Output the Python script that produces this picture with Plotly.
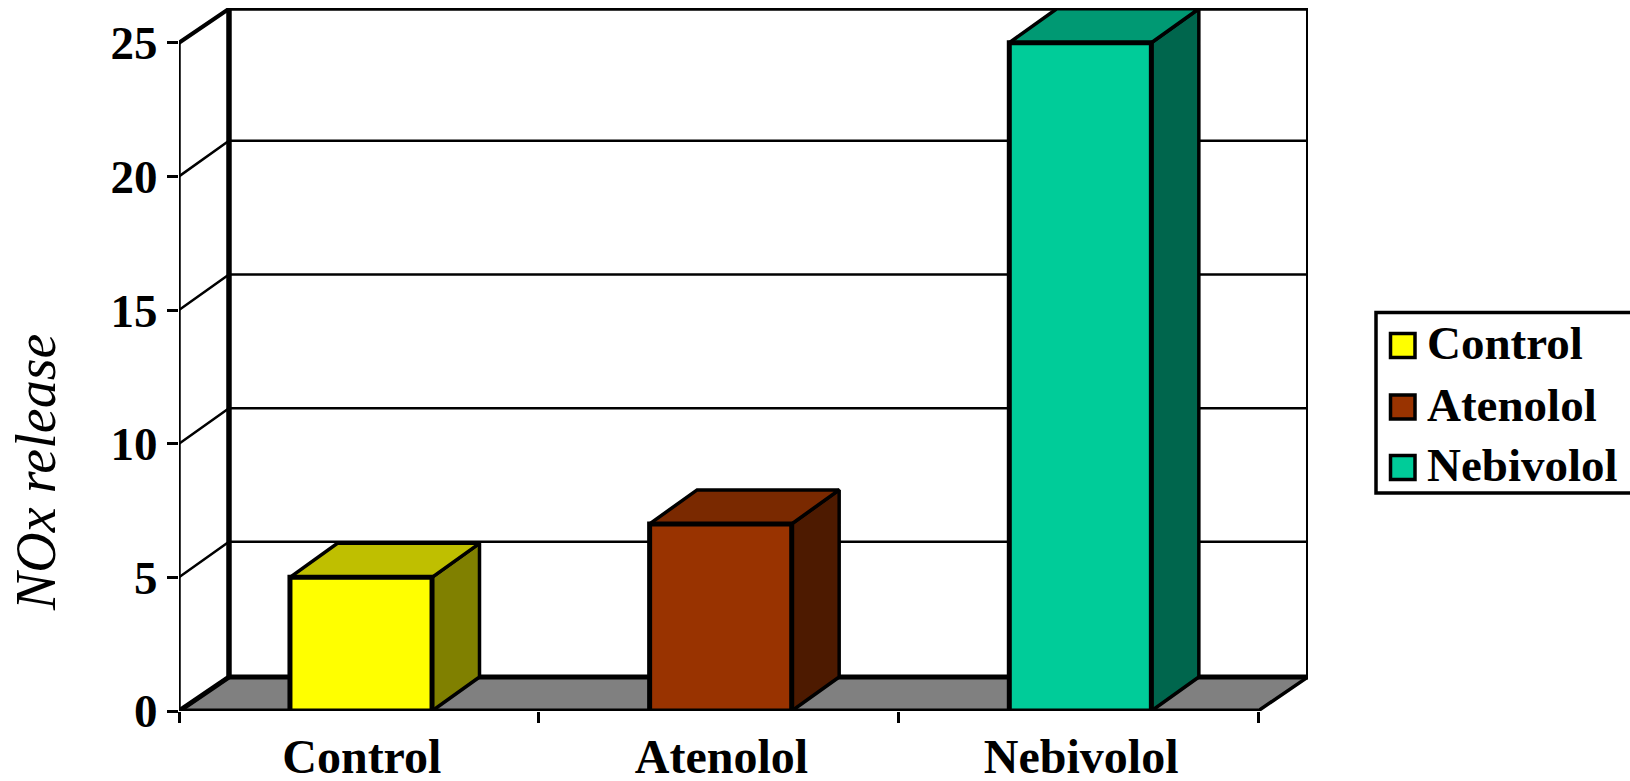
import plotly.graph_objects as go

# Chart data
categories = ["Control", "Atenolol", "Nebivolol"]
nox_release = [5, 7, 25]
front_colors = ["#FFFF00", "#993300", "#00CC99"]
top_colors = ["#BFBF00", "#7A2900", "#009973"]
side_colors = ["#808000", "#4D1A00", "#00664D"]
y_ticks = [0, 5, 10, 15, 20, 25]

SERIF = "Liberation Serif"
W, H = 1630, 781
ML, MR, MT, MB = 179, 322, 8, 70

# Oblique projection of the chart box, in axis units
DEPTH_X = 0.139
DEPTH_Y = 1.272
GRID_DEPTH_Y = 1.33
BAR_DEPTH_X = 0.132
BAR_DEPTH_Y = 1.272
BAR_WIDTH = 0.395
BAR_SHIFT = 0.006
X_MIN, X_MAX = -0.5, 2.5
Y_TOP = 25


def px(x):
    return (x - ML) / (W - ML - MR)


def py(y):
    return 1 - (y - MT) / (H - MT - MB)


def outline(x, y, width=3.5, fill=None):
    return go.Scatter(
        x=x, y=y, mode="lines", xaxis="x", yaxis="y",
        line=dict(color="black", width=width, simplify=False),
        fill="toself" if fill else None, fillcolor=fill,
        hoverinfo="skip", showlegend=False, cliponaxis=False,
    )


fig = go.Figure()

# Floor of the box
fig.add_trace(outline(
    [X_MIN, X_MAX, X_MAX + DEPTH_X, X_MIN + DEPTH_X, X_MIN],
    [0, 0, DEPTH_Y, DEPTH_Y, 0], width=3.5, fill="#808080"))
fig.add_trace(outline([X_MIN, X_MAX], [0, 0], width=5))
fig.add_trace(outline([X_MIN + DEPTH_X, X_MAX + DEPTH_X], [DEPTH_Y, DEPTH_Y], width=5))
fig.add_trace(outline([X_MIN, X_MIN + DEPTH_X], [0, DEPTH_Y], width=5))

# Gridlines running across the side wall and the back wall
for v in y_ticks[1:-1]:
    fig.add_trace(outline(
        [X_MIN, X_MIN + DEPTH_X, X_MAX + DEPTH_X],
        [v, v + GRID_DEPTH_Y, v + GRID_DEPTH_Y], width=2.5))

# Wall edges
fig.add_trace(outline([X_MIN, X_MIN], [0, Y_TOP], width=3.5))
fig.add_trace(outline([X_MIN + DEPTH_X] * 2, [DEPTH_Y, Y_TOP + DEPTH_Y], width=5.5))
fig.add_trace(outline([X_MAX + DEPTH_X] * 2, [DEPTH_Y, Y_TOP + DEPTH_Y], width=4))
fig.add_trace(outline(
    [X_MIN, X_MIN + DEPTH_X, X_MAX + DEPTH_X],
    [Y_TOP, Y_TOP + DEPTH_Y, Y_TOP + DEPTH_Y], width=4))

# Side and top faces of each column
for i, v in enumerate(nox_release):
    left = i + BAR_SHIFT - BAR_WIDTH / 2
    right = left + BAR_WIDTH
    fig.add_trace(outline(
        [right, right + BAR_DEPTH_X, right + BAR_DEPTH_X, right, right],
        [0, BAR_DEPTH_Y, v + BAR_DEPTH_Y, v, 0], fill=side_colors[i]))
    fig.add_trace(outline(
        [left, left + BAR_DEPTH_X, right + BAR_DEPTH_X, right, left],
        [v, v + BAR_DEPTH_Y, v + BAR_DEPTH_Y, v, v], fill=top_colors[i]))

# Front faces of the columns
fig.add_trace(go.Bar(
    x=categories, y=nox_release, xaxis="x2", yaxis="y", width=BAR_WIDTH,
    offset=BAR_SHIFT - BAR_WIDTH / 2,
    marker=dict(color=front_colors, line=dict(color="black", width=5)),
    cliponaxis=False, showlegend=False,
))

# Legend box, its swatches and labels
shapes = [dict(
    type="rect", xref="paper", yref="paper", layer="above",
    x0=px(1376), x1=px(1640), y0=py(312.5), y1=py(493),
    line=dict(color="black", width=3.5), fillcolor="white",
)]
annotations = []
for name, color, cy in zip(categories, front_colors, [345.5, 407, 467.5]):
    shapes.append(dict(
        type="rect", xref="paper", yref="paper", layer="above",
        x0=px(1390.5), x1=px(1415), y0=py(cy - 12), y1=py(cy + 12),
        line=dict(color="black", width=3.5), fillcolor=color,
    ))
    annotations.append(dict(
        text=f"<b>{name}</b>", xref="paper", yref="paper", showarrow=False,
        x=px(1425), y=py(cy - 2.5), xanchor="left", yanchor="middle",
        font=dict(family=SERIF, size=47, color="black"),
    ))

# Rotated value-axis title
annotations.append(dict(
    text="<i>NOx release</i>", xref="paper", yref="paper", showarrow=False,
    x=px(36), y=py(473), xanchor="center", yanchor="middle", textangle=-90,
    font=dict(family=SERIF, size=56, color="black"),
))

fig.update_layout(
    width=W, height=H,
    margin=dict(l=ML, r=MR, t=MT, b=MB, pad=0),
    paper_bgcolor="white", plot_bgcolor="white",
    showlegend=False, shapes=shapes, annotations=annotations,
    xaxis=dict(visible=False, range=[X_MIN, X_MAX + DEPTH_X], fixedrange=True,
               automargin=False),
    xaxis2=dict(
        type="category", overlaying="x", side="bottom",
        categoryorder="array", categoryarray=categories,
        range=[X_MIN, X_MAX + DEPTH_X], tickson="boundaries",
        ticks="outside", ticklen=11, tickwidth=3, tickcolor="black",
        showgrid=False, zeroline=False, showline=False,
        tickfont=dict(family=SERIF, size=48, color="black", weight="bold"),
        ticklabelstandoff=13, ticklabelshift=3, fixedrange=True, automargin=False,
    ),
    yaxis=dict(
        range=[0, 26.3], tickmode="array", tickvals=y_ticks,
        ticks="outside", ticklen=11, tickwidth=3, tickcolor="black",
        showgrid=False, zeroline=False, showline=False,
        tickfont=dict(family=SERIF, size=47, color="black", weight="bold"),
        ticklabelstandoff=0, fixedrange=True, automargin=False,
    ),
)

fig.write_html("out.html", config=dict(displayModeBar=False))
